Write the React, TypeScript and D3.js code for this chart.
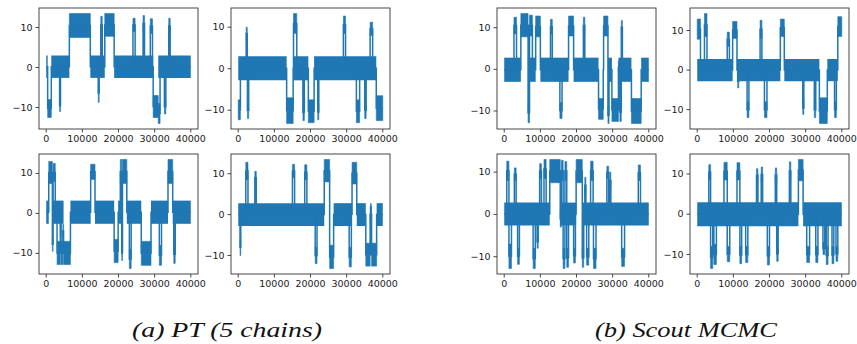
import React from "react";
import * as d3 from "d3";

// [start iteration, end iteration, band low, band high] for each excursion away from the 0 mode
type Seg = [number, number, number, number];

const nIter = 40000;
const iterTicks = [0, 10000, 20000, 30000, 40000];
const valueTicks = [-10, 0, 10];
const lineColor = "#1f77b4";
// excursions shorter than this are quick spikes: the 0-mode band stays unbroken under them
const spikeLen = 1000;

// PT (5 chains)
const ptBase1 = [-2.6, 3.0];
const ptChain1: Seg[] = [
  [400, 1400, -12.5, -8],
  [3700, 3950, -11, -8],
  [6400, 12200, 7.5, 13.5],
  [14400, 14650, -8.7, -4],
  [15100, 15500, 8.5, 12.8],
  [16200, 18800, 7.8, 13.5],
  [24000, 24600, 9, 12.3],
  [26800, 27200, 9, 13],
  [28800, 29400, 8.5, 12.2],
  [29600, 31000, -12.5, -7],
  [31000, 31500, -14, -9],
  [32700, 33100, -11.6, -8],
  [33900, 34300, 8.5, 12.3],
];

const ptBase2 = [-2.8, 3.0];
const ptChain2: Seg[] = [
  [0, 600, -12.3, -7.5],
  [2200, 2500, 7, 10],
  [2550, 2900, -12, -8],
  [13400, 15200, -13.2, -7],
  [15300, 16200, 8.5, 13.3],
  [17900, 18300, -12.5, -8.5],
  [19400, 21000, -13, -7.5],
  [22000, 22300, -12.3, -8.5],
  [29100, 29700, 8.5, 12.7],
  [32700, 33600, -13, -7.5],
  [35000, 35400, -12, -8],
  [36500, 37200, 8, 11.2],
  [38200, 40000, -12.5, -6.5],
];

const ptBase3 = [-2.6, 3.2];
const ptChain3: Seg[] = [
  [700, 1700, 7.5, 13],
  [1700, 1900, -9.5, -6],
  [1900, 2500, 8, 12.5],
  [3000, 3900, -12.8, -7],
  [3900, 4100, -6, 1.6],
  [4100, 4600, -12.8, -7],
  [4600, 4800, -6, -2.7],
  [4800, 6700, -12.8, -7],
  [12300, 13500, 8.5, 12.3],
  [18800, 19900, -12.3, -6.5],
  [20500, 20900, 7.5, 13.5],
  [20900, 21100, -11.8, -8],
  [21100, 22300, 7.5, 13.5],
  [23000, 23500, -13.8, -9],
  [26300, 29000, -13, -7],
  [31300, 31900, -13, -8],
  [33700, 35000, 7.5, 13.5],
  [35300, 35700, -12.5, -8],
];

const ptBase4 = [-2.8, 2.8];
const ptChain4: Seg[] = [
  [500, 700, -10, -6],
  [2100, 2700, 8.5, 12.8],
  [4600, 5000, 7.5, 10.6],
  [15000, 15600, 9, 12.3],
  [18400, 19000, 8.5, 12.2],
  [21300, 21800, -12, -8],
  [23800, 25300, 8, 13.5],
  [25300, 26400, -13.2, -7.5],
  [30700, 31300, -12.8, -8],
  [31500, 32800, 7.5, 12.8],
  [35300, 36500, -12.6, -7],
  [36500, 36900, -2, 2],
  [36900, 38300, -12.6, -7],
];

// Scout MCMC
const scBase1 = [-3.0, 2.8];
const scChain1: Seg[] = [
  [2700, 3400, 8.5, 12.5],
  [4600, 6600, 7.8, 13.4],
  [6600, 7000, -12.8, -8],
  [7000, 7800, 8, 13],
  [8700, 10000, 7.8, 12.8],
  [12800, 13300, 8.5, 12],
  [15400, 16000, -11.8, -8],
  [17800, 19200, 8, 12.8],
  [21900, 22300, 8.5, 12.5],
  [26100, 27400, -12, -7],
  [27500, 28700, 8, 12.8],
  [28700, 29000, -13, -9],
  [29800, 31600, -12.5, -7],
  [31600, 32000, -1, 2],
  [32000, 32400, -12.5, -8],
  [32400, 32700, 8.5, 11.7],
  [35200, 37900, -13, -7],
];

const scBase2 = [-2.8, 2.8];
const scChain2: Seg[] = [
  [0, 900, 7.8, 12.9],
  [2000, 2700, 8.5, 14.3],
  [8300, 8900, 6, 9.6],
  [9800, 11000, 8, 12.3],
  [11200, 11500, -4.5, -1],
  [13800, 14300, -12, -8],
  [17400, 17900, 8, 12.6],
  [18600, 19300, -12, -8],
  [23000, 24100, 8.5, 12.9],
  [29200, 29500, -11.2, -8],
  [32400, 32800, -12, -8],
  [33800, 36000, -13.5, -7],
  [38000, 38500, -12, -8],
  [38900, 40000, 8.5, 13.5],
];

const scBase3 = [-2.6, 2.8];
const scChain3: Seg[] = [
  [700, 1300, 8, 12.6],
  [1300, 2000, -12.8, -7],
  [2800, 3300, 8, 11],
  [3700, 4200, -11.8, -8],
  [8000, 8600, -12.8, -8],
  [9100, 9400, -8, -5],
  [9800, 10300, 8.5, 12],
  [11000, 11600, 8.5, 13],
  [12600, 15500, 7.5, 13],
  [15500, 15800, -3, 1],
  [15800, 16300, 8, 12.8],
  [16300, 16800, -12.8, -8],
  [16800, 17300, 8, 12.5],
  [17300, 17800, -12.5, -8],
  [19200, 19700, -11.5, -8],
  [19900, 21600, 7.5, 13],
  [21600, 22000, -12.5, -8],
  [22300, 22600, 5, 8.8],
  [22800, 23400, -12, -8],
  [23900, 24600, 8, 12.6],
  [24700, 25400, -12.8, -8],
  [28400, 28900, 8.5, 11.4],
  [29200, 29500, 6, 10],
  [32500, 33300, -12.3, -8],
  [37100, 37700, 8, 11.7],
];

const scBase4 = [-3.0, 3.0];
const scChain4: Seg[] = [
  [3200, 3700, 8.5, 12.3],
  [3700, 4300, -13.5, -8],
  [4300, 4600, -2, 2],
  [4600, 5300, -12.5, -7.5],
  [7400, 8300, 8.5, 12.9],
  [8300, 9000, -11.8, -8],
  [11000, 11800, 8.5, 12.8],
  [11800, 12300, -12.3, -8],
  [13400, 14000, -12, -8],
  [16400, 16800, 8, 11.3],
  [17700, 18100, 8, 11.7],
  [19400, 20000, -12.6, -8],
  [21600, 22000, 8, 11.5],
  [22000, 22400, -11.7, -8],
  [25500, 25900, 8.5, 13],
  [28000, 29300, 8.3, 13.6],
  [30300, 31100, -12, -8],
  [32800, 33400, -12, -8],
  [34800, 35300, -10, -7],
  [35700, 36200, -12.5, -8],
  [37300, 37800, -12.3, -8],
  [38400, 38900, -11.7, -8],
];

type Pt = { x: number; lo: number; hi: number };

// full step sequence: gaps between excursions are the 0-mode band
function buildSteps(base: number[], exc: Seg[]): Pt[] {
  const pts: Pt[] = [];
  let t = 0;
  for (const [s, e, lo, hi] of exc) {
    if (s > t) pts.push({ x: t, lo: base[0], hi: base[1] });
    pts.push({ x: s, lo, hi });
    t = e;
  }
  if (t < nIter) pts.push({ x: t, lo: base[0], hi: base[1] });
  const last = pts[pts.length - 1];
  pts.push({ x: nIter, lo: last.lo, hi: last.hi });
  return pts;
}

// stretches where the chain sits in the 0 mode (short spikes don't break it)
function baseRuns(exc: Seg[]): [number, number][] {
  const runs: [number, number][] = [];
  let t = 0;
  for (const [s, e] of exc) {
    if (e - s < spikeLen) continue;
    if (s > t) runs.push([t, s]);
    t = Math.max(t, e);
  }
  if (t < nIter) runs.push([t, nIter]);
  return runs;
}

const Trace = ({ x, y, w, h, base, exc }: any) => {
  const pts = buildSteps(base, exc);
  const lo = d3.min(pts, (d) => d.lo) as number;
  const hi = d3.max(pts, (d) => d.hi) as number;
  const pad = (hi - lo) * 0.05;
  const xs = d3.scaleLinear().domain([-nIter * 0.05, nIter * 1.05]).range([0, w]);
  const ys = d3.scaleLinear().domain([lo - pad, hi + pad]).range([h, 0]);

  const band = d3
    .area<Pt>()
    .x((d) => xs(d.x))
    .y0((d) => ys(d.lo))
    .y1((d) => ys(d.hi))
    .curve(d3.curveStepAfter);
  const mid = d3
    .line<Pt>()
    .x((d) => xs(d.x))
    .y((d) => ys((d.lo + d.hi) / 2))
    .curve(d3.curveStepAfter);

  const runs = baseRuns(exc);
  const fmt = d3.format("d");
  const tickLen = 3.5;
  const font = { fontFamily: "DejaVu Sans", fontSize: 9.5, fill: "#222" };

  return (
    <g transform={`translate(${x},${y})`}>
      {runs.map(([a, b], i) => (
        <path
          key={"b" + i}
          d={band([{ x: a, lo: base[0], hi: base[1] }, { x: b, lo: base[0], hi: base[1] }]) || ""}
          fill={lineColor}
        />
      ))}
      {exc.map(([s, e, l, u]: Seg, i: number) => (
        <path
          key={"e" + i}
          d={band([{ x: s, lo: l, hi: u }, { x: e, lo: l, hi: u }]) || ""}
          fill={lineColor}
          stroke={lineColor}
          strokeWidth={0.6}
        />
      ))}
      <path d={mid(pts) || ""} fill="none" stroke={lineColor} strokeWidth={1.5} />
      <rect x={0} y={0} width={w} height={h} fill="none" stroke="#333" strokeWidth={0.9} />
      {iterTicks.map((t) => (
        <g key={"x" + t} transform={`translate(${xs(t)},${h})`}>
          <line y2={tickLen} stroke="#333" strokeWidth={0.9} />
          <text y={tickLen + 3} dy="0.71em" textAnchor="middle" {...font}>
            {fmt(t)}
          </text>
        </g>
      ))}
      {valueTicks.map((t) => (
        <g key={"y" + t} transform={`translate(0,${ys(t)})`}>
          <line x2={-tickLen} stroke="#333" strokeWidth={0.9} />
          <text x={-tickLen - 3} dy="0.32em" textAnchor="end" {...font}>
            {fmt(t)}
          </text>
        </g>
      ))}
    </g>
  );
};

export default function App() {
  const w = 159;
  const rows = [
    { y: 8, h: 121 },
    { y: 154, h: 120 },
  ];
  const colsA = [39, 231];
  const colsB = [497, 690];
  const captionFont = {
    fontFamily: "'Liberation Serif', 'DejaVu Serif', serif",
    fontStyle: "italic",
    fontSize: 21,
    fill: "#111",
    lengthAdjust: "spacingAndGlyphs",
  };
  return (
    <svg
      width={857}
      height={344}
      style={{ position: "absolute", left: 0, top: 0, background: "#fff" }}
    >
      <Trace x={colsA[0]} y={rows[0].y} w={w} h={rows[0].h} base={ptBase1} exc={ptChain1} />
      <Trace x={colsA[1]} y={rows[0].y} w={w} h={rows[0].h} base={ptBase2} exc={ptChain2} />
      <Trace x={colsA[0]} y={rows[1].y} w={w} h={rows[1].h} base={ptBase3} exc={ptChain3} />
      <Trace x={colsA[1]} y={rows[1].y} w={w} h={rows[1].h} base={ptBase4} exc={ptChain4} />
      <Trace x={colsB[0]} y={rows[0].y} w={w} h={rows[0].h} base={scBase1} exc={scChain1} />
      <Trace x={colsB[1]} y={rows[0].y} w={w} h={rows[0].h} base={scBase2} exc={scChain2} />
      <Trace x={colsB[0]} y={rows[1].y} w={w} h={rows[1].h} base={scBase3} exc={scChain3} />
      <Trace x={colsB[1]} y={rows[1].y} w={w} h={rows[1].h} base={scBase4} exc={scChain4} />
      <text x={227} y={337} textAnchor="middle" textLength={190} {...captionFont}>
        (a) PT (5 chains)
      </text>
      <text x={686} y={337} textAnchor="middle" textLength={182} {...captionFont}>
        (b) Scout MCMC
      </text>
    </svg>
  );
}
